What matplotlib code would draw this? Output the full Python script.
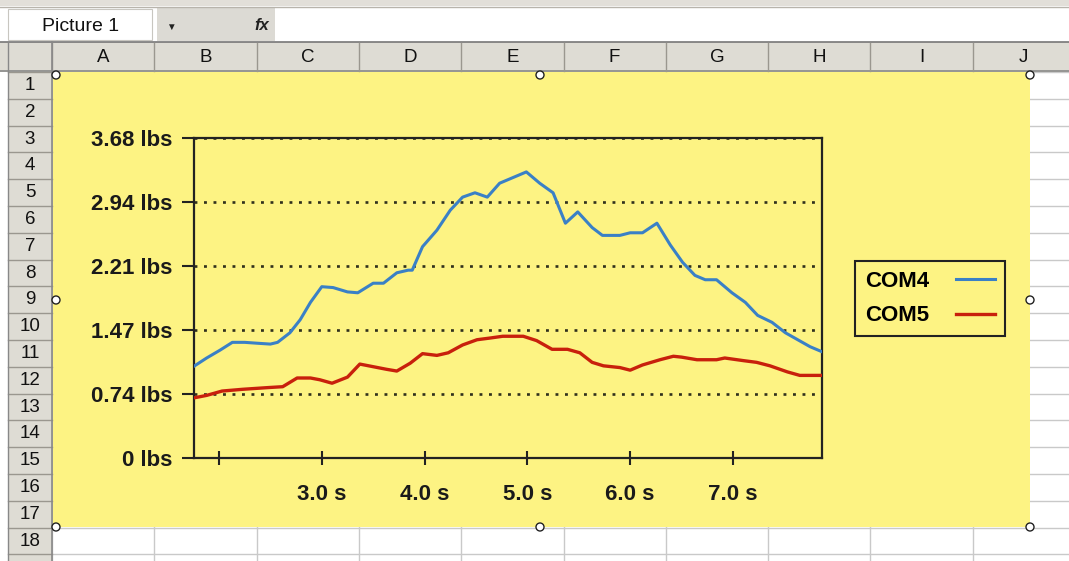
import matplotlib.pyplot as plt
from matplotlib.patches import Rectangle, Circle

# force readings, seconds / lbs
com4_t = [1.75, 1.88, 2.01, 2.13, 2.25, 2.37, 2.50, 2.57, 2.69, 2.79, 2.89, 3.00, 3.11, 3.25,
          3.35, 3.50, 3.60, 3.73, 3.84, 3.88, 3.98, 4.12, 4.25, 4.37, 4.49, 4.61, 4.73, 4.85,
          4.99, 5.12, 5.25, 5.37, 5.49, 5.63, 5.73, 5.90, 6.00, 6.12, 6.26, 6.39, 6.51, 6.63,
          6.73, 6.84, 6.99, 7.12, 7.24, 7.38, 7.51, 7.63, 7.75, 7.87]
com4_v = [1.05, 1.15, 1.24, 1.33, 1.33, 1.32, 1.31, 1.33, 1.44, 1.59, 1.79, 1.97, 1.96, 1.91,
          1.90, 2.01, 2.01, 2.13, 2.16, 2.16, 2.43, 2.62, 2.85, 3.00, 3.05, 3.00, 3.16, 3.22,
          3.29, 3.16, 3.05, 2.70, 2.83, 2.65, 2.56, 2.56, 2.59, 2.59, 2.70, 2.45, 2.25, 2.10,
          2.05, 2.05, 1.90, 1.79, 1.64, 1.56, 1.44, 1.36, 1.28, 1.22]

com5_t = [1.75, 1.88, 2.03, 2.23, 2.48, 2.62, 2.76, 2.89, 2.98, 3.10, 3.25, 3.37, 3.50, 3.63,
          3.73, 3.86, 3.98, 4.12, 4.23, 4.37, 4.51, 4.64, 4.76, 4.96, 5.09, 5.24, 5.39, 5.51,
          5.63, 5.74, 5.90, 6.00, 6.12, 6.29, 6.42, 6.50, 6.65, 6.84, 6.92, 7.10, 7.23, 7.36,
          7.53, 7.65, 7.87]
com5_v = [0.69, 0.72, 0.77, 0.79, 0.81, 0.82, 0.92, 0.92, 0.90, 0.86, 0.93, 1.08, 1.05, 1.02,
          1.00, 1.09, 1.20, 1.18, 1.21, 1.30, 1.36, 1.38, 1.40, 1.40, 1.35, 1.25, 1.25, 1.21,
          1.10, 1.06, 1.04, 1.01, 1.07, 1.13, 1.17, 1.16, 1.13, 1.13, 1.15, 1.12, 1.10, 1.06,
          0.99, 0.95, 0.95]

y_ticks = [0, 0.74, 1.47, 2.21, 2.94, 3.68]
y_labels = ['0 lbs', '0.74 lbs', '1.47 lbs', '2.21 lbs', '2.94 lbs', '3.68 lbs']
x_ticks = [2, 3, 4, 5, 6, 7]
x_labels = ['', '3.0 s', '4.0 s', '5.0 s', '6.0 s', '7.0 s']

col_names = ['A', 'B', 'C', 'D', 'E', 'F', 'G', 'H', 'I', 'J']

W, H = 1069, 561
YELLOW = '#fdf383'
HEAD = '#dedcd4'
plt.rcParams['font.family'] = ['Liberation Sans', 'DejaVu Sans']

fig = plt.figure(figsize=(W / 100, H / 100), dpi=100)
fig.patch.set_facecolor('white')

# worksheet background drawn in pixel units
bg = fig.add_axes([0, 0, 1, 1])
bg.set_xlim(0, W)
bg.set_ylim(H, 0)
bg.axis('off')

# toolbar strip and formula bar
bg.add_patch(Rectangle((0, 0), W, 6, fc='#e2dfd9', ec='none'))
bg.plot([0, W], [6.5, 6.5], color='#b8b4ac', lw=1)
bg.add_patch(Rectangle((157, 8), 118, 33, fc='#dcdad4', ec='none'))
bg.add_patch(Rectangle((8, 9), 144, 31, fc='white', ec='#c8c6c0', lw=0.8))
bg.text(42, 26, 'Picture 1', fontsize=14, va='center', ha='left', color='#111')
bg.text(171, 27, '\u25bc', fontsize=7, va='center', ha='center', color='#222')
bg.text(262, 25, 'fx', fontsize=12, fontstyle='italic', fontweight='bold',
        va='center', ha='center', color='#222')

# column headers
row_top, row_h = 72, 26.8
col_left, col_w = 52, 102.3
bg.add_patch(Rectangle((0, 42), W, 30, fc=HEAD, ec='none'))
bg.add_patch(Rectangle((8, 42), 44, H - 42, fc=HEAD, ec='none'))
bg.plot([0, W], [42, 42], color='#777', lw=1.2)
bg.plot([0, W], [71, 71], color='#888', lw=1.2)
for k in range(11):
    x = col_left + k * col_w
    bg.plot([x, x], [43, 71], color='#9a978f', lw=1)
for k, name in enumerate(col_names):
    bg.text(col_left + (k + 0.5) * col_w, 57, name, fontsize=13.5,
            ha='center', va='center', color='#111')

# cell gridlines and row headers
for i in range(19):
    y = row_top + i * row_h
    bg.plot([52, W], [y, y], color='#c9c9c9', lw=1, zorder=0.5)
    bg.plot([8, 52], [y, y], color='#9a978f', lw=1)
for k in range(11):
    x = col_left + k * col_w
    bg.plot([x, x], [72, H], color='#c9c9c9', lw=1, zorder=0.5)
for i in range(18):
    bg.text(30, row_top + (i + 0.5) * row_h, str(i + 1), fontsize=13.5,
            ha='center', va='center', color='#111')
bg.plot([52, 52], [42, H], color='#888', lw=1.2)
bg.plot([8, 8], [42, H], color='#888', lw=1)

# chart area
bg.add_patch(Rectangle((53, 72), 977, 455, fc=YELLOW, ec='none', zorder=1))
for hx, hy in [(540, 75), (1030, 75), (1030, 300), (1030, 527), (540, 527),
               (56, 75), (56, 300), (56, 527)]:
    bg.add_patch(Circle((hx, hy), 4, fc='white', ec='#222', lw=1, zorder=2))

# plot area
ax = fig.add_axes([194 / W, 1 - 458 / H, 628 / W, 320 / H])
ax.set_facecolor(YELLOW)
ax.plot(com4_t, com4_v, color='#3a80c6', lw=2.2, label='COM4', zorder=3)
ax.plot(com5_t, com5_v, color='#c8200c', lw=2.4, label='COM5', zorder=3)
ax.set_xlim(1.757, 7.866)
ax.set_ylim(0, 3.68)
ax.set_yticks(y_ticks)
ax.set_yticklabels(y_labels, fontsize=16, fontweight='bold', color='#1a1a1a')
ax.set_xticks(x_ticks)
ax.set_xticklabels(x_labels, fontsize=16, fontweight='bold', color='#1a1a1a')
ax.tick_params(axis='y', direction='out', length=8.6, width=1.5, pad=7, color='#222')
ax.tick_params(axis='x', direction='inout', length=10, width=1.5, pad=14, color='#222')
ax.grid(axis='y', color='#30301c', lw=1.9, linestyle=(0, (1.1, 2.5)))
for sp in ax.spines.values():
    sp.set_color('#222')
    sp.set_linewidth(1.6)

leg = ax.legend(loc='center left', bbox_to_anchor=(855 / W, 1 - 298.5 / H),
                bbox_transform=fig.transFigure, borderaxespad=0, markerfirst=False,
                fancybox=False, framealpha=1, facecolor=YELLOW, edgecolor='#222',
                prop={'size': 16, 'weight': 'bold'}, handlelength=1.75,
                handletextpad=1.2, labelspacing=0.62, borderpad=0.45)
leg.get_frame().set_linewidth(1.5)

fig.savefig('out.png', dpi=100, facecolor='white')
